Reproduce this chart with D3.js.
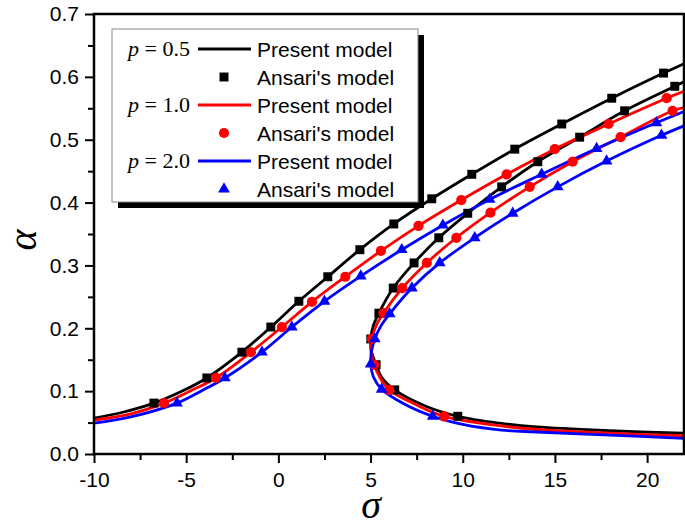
<!DOCTYPE html>
<html>
<head>
<meta charset="utf-8">
<script src="https://cdn.jsdelivr.net/npm/d3@7"></script>
<style>
  body { margin: 0; background: #fff; }
  svg { display: block; }
</style>
</head>
<body>
<svg id="chart" width="685" height="526"></svg>
<script>
// ---- data (sigma, alpha) ----
var xTicks = [-10, -5, 0, 5, 10, 15, 20];
var yTicks = [0.0, 0.1, 0.2, 0.3, 0.4, 0.5, 0.6, 0.7];
var seriesNames = ["p = 0.5", "p = 1.0", "p = 2.0"];
var pLabels = ["0.5", "1.0", "2.0"];
var seriesColors = ["#000000", "#ff0000", "#0000ff"];

// present model, lower-left branch
var line05a = [[-10,0.057],[-8.5,0.066],[-6.75,0.081],[-5.3,0.099],[-3.88,0.121],[-1.98,0.162],[-0.41,0.202],[1.11,0.243],[2.68,0.282],[4.42,0.325],[6.26,0.366],[8.32,0.406],[10.49,0.445],[12.82,0.485],[15.37,0.525],[18.08,0.566],[20.89,0.606],[22,0.621]];
var line10a = [[-10,0.054],[-8,0.064],[-6.2,0.081],[-4.8,0.100],[-3.39,0.121],[-1.49,0.162],[0.19,0.202],[1.82,0.242],[3.63,0.282],[5.56,0.323],[7.6,0.363],[9.92,0.404],[12.38,0.445],[14.99,0.485],[17.91,0.525],[21.06,0.566],[22,0.577]];
var line20a = [[-10,0.049],[-8,0.059],[-5.5,0.081],[-4.2,0.100],[-2.9,0.121],[-0.89,0.162],[0.73,0.202],[2.5,0.243],[4.47,0.283],[6.69,0.325],[8.92,0.364],[11.46,0.405],[14.28,0.445],[17.26,0.486],[20.5,0.527],[22,0.545]];
// present model, C-shaped branch
var line05b = [[22,0.033],[18,0.037],[14,0.043],[12,0.049],[9.73,0.060],[8,0.076],[6.31,0.102],[5.6,0.122],[5.3,0.142],[5.05,0.163],[5.01,0.183],[5.15,0.204],[5.45,0.224],[6.23,0.264],[7.36,0.304],[8.7,0.344],[10.27,0.383],[12.11,0.425],[14.07,0.465],[16.34,0.504],[18.78,0.546],[21.5,0.585],[22,0.592]];
var line10b = [[22,0.029],[18,0.033],[14,0.039],[12,0.045],[8.99,0.060],[7.5,0.078],[6.02,0.102],[5.5,0.122],[5.2,0.142],[5.02,0.163],[5.07,0.183],[5.3,0.204],[5.7,0.224],[6.72,0.264],[8.05,0.304],[9.65,0.344],[11.5,0.384],[13.63,0.425],[15.96,0.465],[18.56,0.504],[21.38,0.546],[22,0.551]];
var line20b = [[22,0.025],[18,0.030],[14,0.035],[12.1,0.038],[10,0.047],[8.37,0.060],[6.8,0.080],[5.6,0.103],[5.15,0.123],[5.01,0.143],[5.05,0.163],[5.23,0.183],[5.55,0.203],[6.04,0.223],[7.24,0.264],[8.75,0.304],[10.65,0.344],[12.71,0.383],[15.15,0.425],[17.8,0.466],[20.78,0.507],[22,0.522]];

// Ansari's model (markers)
var ans05 = [[-6.75,0.081],[-3.88,0.121],[-1.98,0.162],[-0.41,0.202],[1.11,0.243],[2.68,0.282],[4.42,0.325],[6.26,0.366],[8.32,0.406],[10.49,0.445],[12.82,0.485],[15.37,0.525],[18.08,0.566],[20.89,0.606],
             [9.73,0.060],[6.31,0.102],[5.3,0.142],[5.01,0.183],[5.45,0.224],[6.23,0.264],[7.36,0.304],[8.7,0.344],[10.27,0.383],[12.11,0.425],[14.07,0.465],[16.34,0.504],[18.78,0.546],[21.5,0.585]];
var ans10 = [[-6.2,0.081],[-3.39,0.121],[-1.49,0.162],[0.19,0.202],[1.82,0.242],[3.63,0.282],[5.56,0.323],[7.6,0.363],[9.92,0.404],[12.38,0.445],[14.99,0.485],[17.91,0.525],[21.06,0.566],
             [8.99,0.060],[6.02,0.102],[5.2,0.142],[5.07,0.183],[5.7,0.224],[6.72,0.264],[8.05,0.304],[9.65,0.344],[11.5,0.384],[13.63,0.425],[15.96,0.465],[18.56,0.504],[21.38,0.546]];
var ans20 = [[-5.5,0.081],[-2.9,0.121],[-0.89,0.162],[0.73,0.202],[2.5,0.243],[4.47,0.283],[6.69,0.325],[8.92,0.364],[11.46,0.405],[14.28,0.445],[17.26,0.486],[20.5,0.527],
             [8.37,0.060],[5.6,0.103],[5.01,0.143],[5.23,0.183],[6.04,0.223],[7.24,0.264],[8.75,0.304],[10.65,0.344],[12.71,0.383],[15.15,0.425],[17.8,0.466],[20.78,0.507]];

function drawChart()
{
  var svg = d3.select("#chart");
  var mLeft = 94, mRight = 684, mTop = 14, mBottom = 454;

  var x = d3.scaleLinear().domain([-10, 22]).range([mLeft, mRight]);
  var y = d3.scaleLinear().domain([0, 0.7]).range([mBottom, mTop]);

  svg.append("defs").append("clipPath").attr("id", "clip")
    .append("rect").attr("x", mLeft).attr("y", mTop).attr("width", mRight - mLeft).attr("height", mBottom - mTop);

  // data
  var line = d3.line().x(function(d){ return x(d[0]); }).y(function(d){ return y(d[1]); })
    .curve(d3.curveCatmullRom.alpha(0.5));
  var plot = svg.append("g").attr("clip-path", "url(#clip)");
  var lines = [[line05a, line05b], [line10a, line10b], [line20a, line20b]];
  var marks = [ans05, ans10, ans20];
  var symbols = [d3.symbol().type(d3.symbolSquare).size(80),
                 d3.symbol().type(d3.symbolCircle).size(82),
                 d3.symbol().type(d3.symbolTriangle).size(60)];

  lines.forEach(function(pair, i){
    pair.forEach(function(arr){
      plot.append("path").datum(arr)
        .attr("d", line)
        .attr("fill", "none")
        .attr("stroke", seriesColors[i])
        .attr("stroke-width", 2.8)
        .attr("stroke-linejoin", "round");
    });
  });
  marks.forEach(function(arr, i){
    plot.selectAll(".m" + i).data(arr).enter().append("path")
      .attr("class", "m" + i)
      .attr("transform", function(d){ return "translate(" + x(d[0]) + "," + y(d[1]) + ")"; })
      .attr("d", symbols[i])
      .attr("fill", seriesColors[i]);
  });

  // axes
  var fontSans = "Arial, 'Liberation Sans', sans-serif";
  var fontSerif = "'Times New Roman', 'Liberation Serif', serif";

  var xAxis = svg.append("g").attr("transform", "translate(0," + mBottom + ")")
    .call(d3.axisBottom(x).tickValues(xTicks).tickSize(9).tickPadding(9).tickSizeOuter(0)
      .tickFormat(function(d){ return String(d); }));
  var xMinor = svg.append("g").attr("transform", "translate(0," + mBottom + ")")
    .call(d3.axisBottom(x).tickValues([-7.5, -2.5, 2.5, 7.5, 12.5, 17.5]).tickSize(6).tickSizeOuter(0).tickFormat(""));
  var yAxis = svg.append("g").attr("transform", "translate(" + mLeft + ",0)")
    .call(d3.axisLeft(y).tickValues(yTicks).tickSize(9).tickPadding(6).tickSizeOuter(0)
      .tickFormat(d3.format(".1f")));
  var yMinor = svg.append("g").attr("transform", "translate(" + mLeft + ",0)")
    .call(d3.axisLeft(y).tickValues([0.05, 0.15, 0.25, 0.35, 0.45, 0.55, 0.65]).tickSize(6).tickSizeOuter(0).tickFormat(""));

  [xAxis, xMinor, yAxis, yMinor].forEach(function(g){
    g.select(".domain").remove();
    g.attr("font-size", null).attr("font-family", null);
    g.selectAll(".tick line").attr("stroke", "#000").attr("stroke-width", 2);
    g.selectAll(".tick text").attr("font-family", fontSans).attr("font-size", 21).attr("fill", "#000");
  });

  // frame
  svg.append("rect").attr("x", mLeft).attr("y", mTop).attr("width", mRight - mLeft).attr("height", mBottom - mTop)
    .attr("fill", "none").attr("stroke", "#000").attr("stroke-width", 2.5);

  // axis titles
  svg.append("text").attr("x", 371).attr("y", 518)
    .attr("text-anchor", "middle").attr("font-family", fontSerif).attr("font-style", "italic")
    .attr("font-size", 40).text("σ");
  svg.append("text").attr("transform", "translate(36,240) rotate(-90)")
    .attr("text-anchor", "middle").attr("font-family", fontSerif).attr("font-style", "italic")
    .attr("font-size", 40).text("α");

  // legend
  var lg = svg.append("g");
  lg.append("rect").attr("x", 118).attr("y", 35).attr("width", 306).attr("height", 173).attr("fill", "#000");
  lg.append("rect").attr("x", 112).attr("y", 29).attr("width", 306).attr("height", 173)
    .attr("fill", "#fff").attr("stroke", "#888").attr("stroke-width", 1);

  seriesNames.forEach(function(name, i){
    var cy1 = 49 + i * 56, cy2 = cy1 + 28;
    var t = lg.append("text").attr("x", 190).attr("y", cy1 + 7).attr("text-anchor", "end")
      .attr("font-family", fontSerif).attr("font-size", 22).attr("fill", "#000");
    t.append("tspan").attr("font-style", "italic").text("p");
    t.append("tspan").text(" = " + pLabels[i]);
    lg.append("line").attr("x1", 198).attr("x2", 251).attr("y1", cy1).attr("y2", cy1)
      .attr("stroke", seriesColors[i]).attr("stroke-width", 2.8);
    lg.append("text").attr("x", 257).attr("y", cy1 + 7.5)
      .attr("font-family", fontSans).attr("font-size", 21).attr("fill", "#000").text("Present model");
    lg.append("path").attr("transform", "translate(224," + cy2 + ")").attr("d", symbols[i]).attr("fill", seriesColors[i]);
    lg.append("text").attr("x", 257).attr("y", cy2 + 7.5)
      .attr("font-family", fontSans).attr("font-size", 21).attr("fill", "#000").text("Ansari's model");
  });
}
drawChart();
</script>
</body>
</html>
